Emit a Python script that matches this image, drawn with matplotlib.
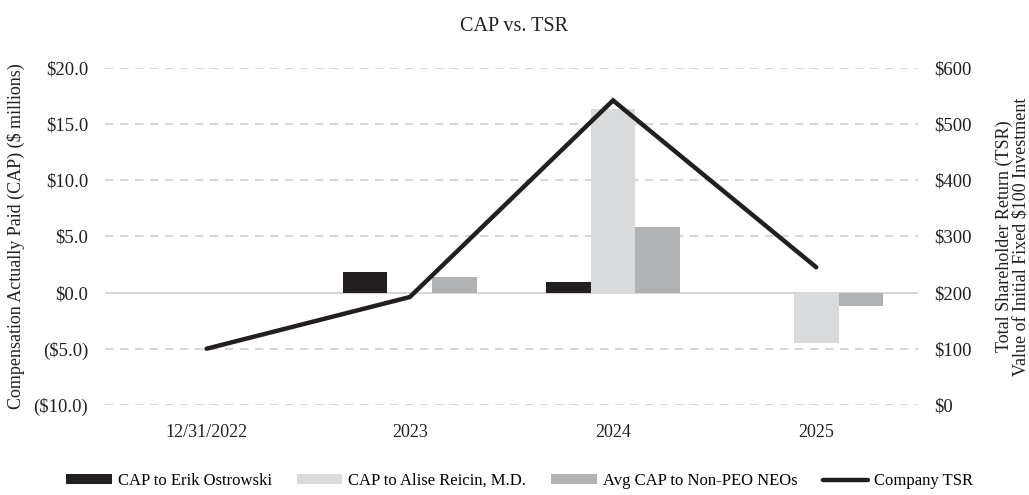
import numpy as np
import matplotlib
matplotlib.use("Agg")
import matplotlib.pyplot as plt
from matplotlib.ticker import FuncFormatter

plt.rcParams['font.family'] = ['Liberation Serif', 'DejaVu Serif']

# data
years = ['12/31/2022', '2023', '2024', '2025']
cap_erik = [0.0, 1.8, 0.9, 0.0]
cap_alise = [0.0, 0.0, 16.3, -4.5]
cap_avg = [0.0, 1.4, 5.8, -1.2]
tsr = [100, 192, 542, 245]

fig = plt.figure(figsize=(10.29, 4.95), dpi=100)
ax = fig.add_axes([0.102, 0.182, 0.79, 0.681])
ax2 = ax.twinx()

x = np.arange(len(years))
w = 0.22
ax.bar(x - w, cap_erik, w, color='#231f20', label='CAP to Erik Ostrowski', zorder=2)
ax.bar(x, cap_alise, w, color='#d9dadb', label='CAP to Alise Reicin, M.D.', zorder=2)
ax.bar(x + w, cap_avg, w, color='#b1b2b4', label='Avg CAP to Non-PEO NEOs', zorder=2)
ln, = ax2.plot(x, tsr, color='#231f20', lw=3.2, solid_capstyle='round',
               solid_joinstyle='miter', label='Company TSR', zorder=4)

ax.set_xlim(-0.5, 3.5)
ax.set_ylim(-10, 20)
ax2.set_ylim(0, 600)
ax.set_yticks(np.arange(-10, 21, 5))
ax2.set_yticks(np.arange(0, 601, 100))

def money(v, pos):
    if v < 0:
        return '(${:.1f})'.format(-v)
    return '${:.1f}'.format(v)

ax.yaxis.set_major_formatter(FuncFormatter(money))
ax2.yaxis.set_major_formatter(FuncFormatter(lambda v, p: '${:.0f}'.format(v)))

for y in np.arange(-10, 21, 5):
    if y == 0:
        ax.axhline(0, color='#d0d0d0', lw=1.2, zorder=1)
    else:
        ax.axhline(y, color='#d0d0d0', lw=1.2, ls=(0, (5, 4)), zorder=1)

for a in (ax, ax2):
    for s in a.spines.values():
        s.set_visible(False)
    a.tick_params(axis='y', length=0, labelsize=13.5, colors='#231f20', pad=12)

ax.set_xticks(x)
ax.set_xticklabels(years)
ax.tick_params(axis='x', length=0, labelsize=13, colors='#231f20', pad=14)

ax.set_ylabel('Compensation Actually Paid (CAP) ($ millions)', fontsize=13,
              color='#231f20', labelpad=6)
ax2.set_ylabel('Total Shareholder Return (TSR)\nValue of Initial Fixed $100 Investment',
               fontsize=13, color='#231f20', rotation=90, labelpad=17, linespacing=0.95)

fig.suptitle('CAP vs. TSR', y=0.965, fontsize=14.5, color='#231f20')

h1, l1 = ax.get_legend_handles_labels()
fig.legend(h1 + [ln], l1 + ['Company TSR'], loc='lower center', ncol=4,
           bbox_to_anchor=(0.505, -0.018), frameon=False, fontsize=12,
           handlelength=2.75, handleheight=0.5, columnspacing=1.5, handletextpad=0.35)

fig.savefig('out.png', dpi=100)
